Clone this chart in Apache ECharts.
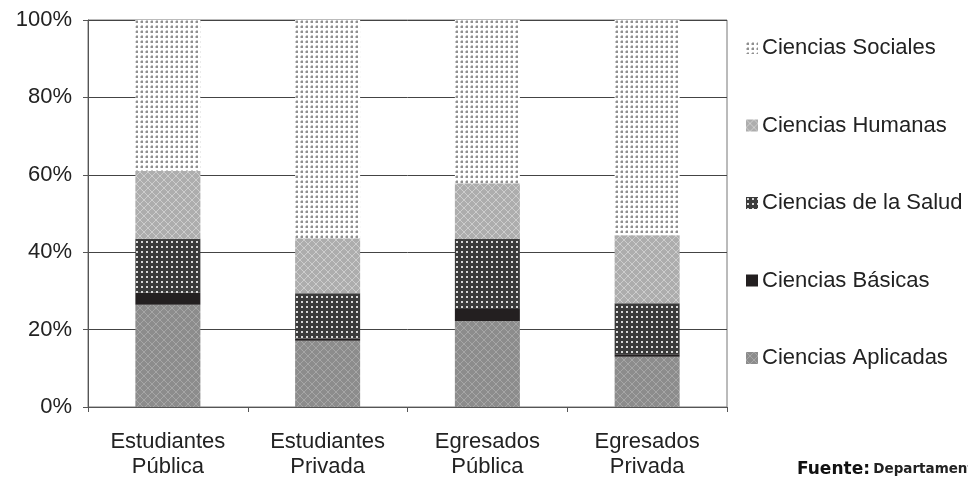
<!DOCTYPE html>
<html>
<head>
<meta charset="utf-8">
<script src="https://cdn.jsdelivr.net/npm/echarts@6/dist/echarts.min.js"></script>
<style>
html,body{margin:0;padding:0;background:#fff;}
#chart{width:968px;height:479px;}
</style>
</head>
<body>
<div id="chart"></div>
<script>
var categories = ['Estudiantes\nPública', 'Estudiantes\nPrivada', 'Egresados\nPública', 'Egresados\nPrivada'];
var seriesNames = ['Ciencias Aplicadas', 'Ciencias Básicas', 'Ciencias de la Salud', 'Ciencias Humanas', 'Ciencias Sociales'];
var aplicadas = [26.4, 17.1, 22.2, 13.0];
var basicas = [3.1, 0.6, 3.1, 0.6];
var salud = [14.0, 11.7, 18.1, 13.2];
var humanas = [17.5, 14.2, 14.4, 17.6];
var sociales = [39.0, 56.4, 42.2, 55.6];
var yTicks = [0, 20, 40, 60, 80, 100];

function makePattern(size, bg, draw) {
  var c = document.createElement('canvas');
  c.width = size; c.height = size;
  var ctx = c.getContext('2d');
  ctx.fillStyle = bg; ctx.fillRect(0, 0, size, size);
  draw(ctx);
  return { image: c, repeat: 'repeat' };
}
var patAplicadas = makePattern(8, '#8c8c8c', function (ctx) {
  ctx.fillStyle = '#a6a6a6';
  for (var i = 0; i < 8; i++) { ctx.fillRect(i, i, 1, 1); ctx.fillRect(7 - i, i, 1, 1); }
});
var patBasicas = '#231f20';
var patSalud = makePattern(5, '#3b3b3b', function (ctx) {
  ctx.fillStyle = '#d8d8d8'; ctx.fillRect(1, 1, 2, 2);
});
var patHumanas = makePattern(8, '#adadad', function (ctx) {
  ctx.fillStyle = '#cdcdcd';
  for (var i = 0; i < 8; i++) { ctx.fillRect(i, i, 1, 1); ctx.fillRect(7 - i, i, 1, 1); }
});
var patSociales = makePattern(5, '#ffffff', function (ctx) {
  ctx.fillStyle = '#8f8f8f'; ctx.fillRect(1, 1, 2, 2);
  ctx.fillStyle = '#cacaca'; ctx.fillRect(0, 1, 1, 2); ctx.fillRect(1, 0, 2, 1);
});

var values = [aplicadas, basicas, salud, humanas, sociales];
var fills = [patAplicadas, patBasicas, patSalud, patHumanas, patSociales];

var series = seriesNames.map(function (name, i) {
  return {
    name: name,
    type: 'bar',
    stack: 'total',
    barWidth: 65,
    data: values[i],
    itemStyle: { color: fills[i] },
    emphasis: { disabled: true }
  };
});

var chart = echarts.init(document.getElementById('chart'), null, { renderer: 'canvas' });
chart.setOption({
  animation: false,
  backgroundColor: '#fff',
  textStyle: { fontFamily: 'Liberation Sans, Arial, sans-serif' },
  grid: { left: 88, right: 241, top: 20, bottom: 72, show: true, borderColor: '#777', borderWidth: 1 },
  legend: {
    orient: 'vertical',
    left: 741,
    top: 32,
    itemWidth: 12,
    itemHeight: 12,
    itemGap: 55.5,
    icon: 'rect',
    data: seriesNames.slice().reverse(),
    textStyle: { fontSize: 22, color: '#222', lineHeight: 22, padding: [0, 0, 0, -1] }
  },
  xAxis: {
    type: 'category',
    data: categories,
    axisLine: { lineStyle: { color: '#555', width: 1 } },
    axisTick: { show: true, length: 5, lineStyle: { color: '#555' } },
    axisLabel: { fontSize: 22, color: '#222', lineHeight: 25, margin: 22, interval: 0 }
  },
  yAxis: {
    type: 'value',
    min: 0,
    max: 100,
    interval: 20,
    axisLine: { show: true, lineStyle: { color: '#555' } },
    axisTick: { show: true, length: 5, lineStyle: { color: '#555' } },
    axisLabel: {
      fontSize: 22, color: '#222', margin: 16,
      formatter: function (v) { return yTicks.indexOf(v) >= 0 ? v + '%' : ''; }
    },
    splitLine: { show: true, lineStyle: { color: '#444', width: 1 } }
  },
  series: series,
  graphic: [{
    type: 'text',
    left: 797,
    top: 461,
    style: {
      text: '{b|Fuente:} {r|Departamento}',
      rich: {
        b: { fontSize: 17, fontWeight: 'bold', fontFamily: 'DejaVu Sans, sans-serif', fill: '#111' },
        r: { fontSize: 13.5, fontWeight: 'bold', fontFamily: 'DejaVu Sans, sans-serif', fill: '#222' }
      }
    }
  }]
});
</script>
</body>
</html>
